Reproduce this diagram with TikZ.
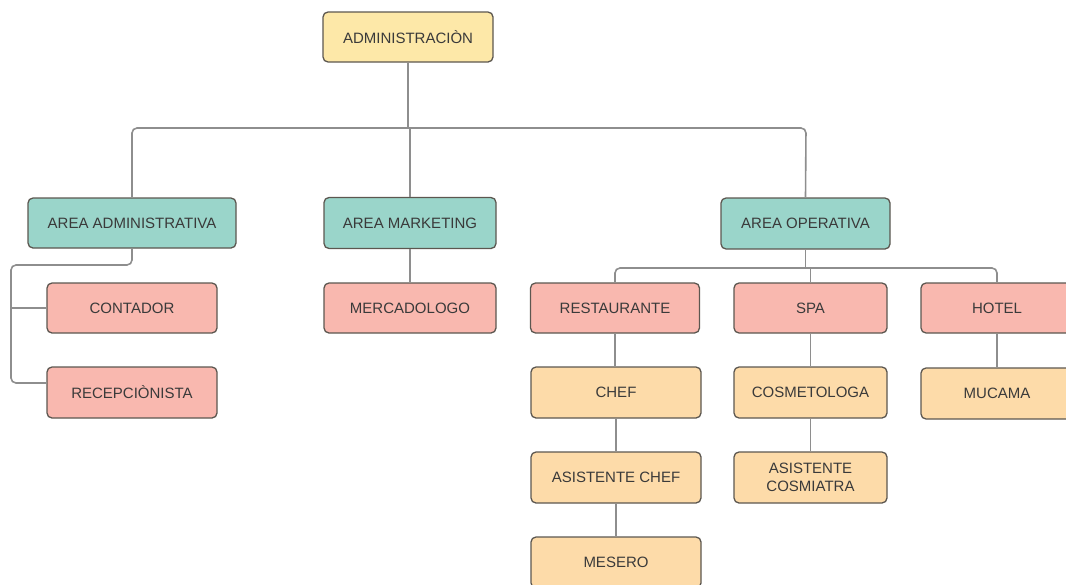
\documentclass[tikz,border=0pt]{standalone}
\usepackage{fontspec}
\setmainfont{Liberation Sans}
\definecolor{boxline}{HTML}{5C5750}
\definecolor{linkgray}{HTML}{8E8E8E}
\definecolor{txt}{HTML}{3A3A3A}
\definecolor{topfill}{HTML}{FDE8A8}
\definecolor{areafill}{HTML}{9AD5CA}
\definecolor{unitfill}{HTML}{F9B8AF}
\definecolor{rolefill}{HTML}{FDDBA9}
\begin{document}
\begin{tikzpicture}[x=1pt,y=-1pt,
  box/.style={rectangle, rounded corners=5pt, draw=boxline, line width=1.3pt,
    minimum height=50pt, inner sep=0pt, text=txt, align=center,
    font=\fontsize{15}{18}\selectfont},
  topbox/.style={box, fill=topfill},
  areabox/.style={box, fill=areafill},
  unitbox/.style={box, fill=unitfill},
  rolebox/.style={box, fill=rolefill},
  conn/.style={draw=linkgray, line width=1.6pt, rounded corners=5pt}]
\useasboundingbox (0,0) rectangle (1066,584);

% top level
\node[topbox, minimum width=170pt] (admin) at (408,37) {ADMINISTRACIÒN};

% areas
\node[areabox, minimum width=208pt] (aadm) at (132,223) {AREA ADMINISTRATIVA};
\node[areabox, minimum width=172pt, minimum height=51pt] (amkt) at (410,223) {AREA MARKETING};
\node[areabox, minimum width=169pt, minimum height=51pt] (aop) at (805.5,223.5) {AREA OPERATIVA};

% units
\node[unitbox, minimum width=170pt] (contador) at (132,308) {CONTADOR};
\node[unitbox, minimum width=170pt, minimum height=51pt] (recep) at (132,392.5) {RECEPCIÒNISTA};
\node[unitbox, minimum width=172pt] (merc) at (410,308) {MERCADOLOGO};
\node[unitbox, minimum width=169pt] (rest) at (615,308) {RESTAURANTE};
\node[unitbox, minimum width=153pt] (spa) at (810.5,308) {SPA};
\node[unitbox, minimum width=152pt] (hotel) at (997,308) {HOTEL};

% roles
\node[rolebox, minimum width=170pt, minimum height=51pt] (chef) at (616,392.5) {CHEF};
\node[rolebox, minimum width=170pt, minimum height=51pt] (asischef) at (616,477.5) {ASISTENTE CHEF};
\node[rolebox, minimum width=170pt, minimum height=51pt] (mesero) at (616,562.5) {MESERO};
\node[rolebox, minimum width=153pt, minimum height=51pt] (cosm) at (810.5,392.5) {COSMETOLOGA};
\node[rolebox, minimum width=153pt, minimum height=51pt] (asiscosm) at (810.5,477.5) {ASISTENTE\\COSMIATRA};
\node[rolebox, minimum width=152pt, minimum height=51pt] (mucama) at (997,393.5) {MUCAMA};

% main bus
\coordinate (busL) at (132,128);
\coordinate (busR) at (806,128);
\draw[conn] (aadm.north) -- (busL) -- (busR) -- (aop.north);
\draw[conn] (admin.south) -- (admin.south |- busL);
\draw[conn] (amkt.north |- busL) -- (amkt.north);
\draw[conn] (amkt.south) -- (merc.north);

% administrative rail
\coordinate (railT) at (11,265);
\coordinate (railM) at (11,308);
\coordinate (railB) at (11,383);
\draw[conn] (aadm.south) |- (railT) -- (railB) -- (recep.west |- railB);
\draw[conn] (railM) -- (contador.west);

% operative bus
\coordinate (opL) at (615,268);
\coordinate (opR) at (997,268);
\draw[conn] (rest.north) -- (opL) -- (opR) -- (hotel.north);
\draw[conn] (aop.south) -- (aop.south |- opL);
\draw[conn] (spa.north |- opL) -- (spa.north);

% chains below the units
\draw[conn] (rest.south) -- (rest.south |- chef.north);
\draw[conn, line width=2.4pt] (chef.south) -- (asischef.north);
\draw[conn] (asischef.south) -- (mesero.north);
\draw[conn] (spa.south) -- (cosm.north);
\draw[conn] (cosm.south) -- (asiscosm.north);
\draw[conn] (hotel.south) -- (mucama.north);
\end{tikzpicture}
\end{document}
